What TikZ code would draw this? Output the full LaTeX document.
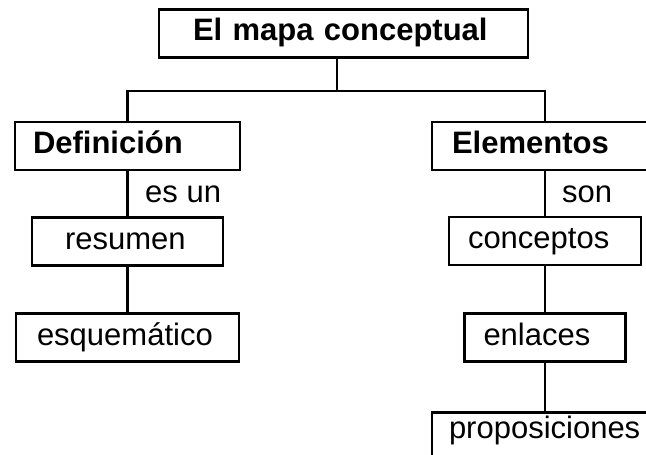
\documentclass[tikz,border=0pt]{standalone}
\usepackage{fontspec}
\setmainfont{Liberation Sans}
\begin{document}
\begin{tikzpicture}[x=1pt,y=-1pt,
    font=\fontsize{31}{36}\selectfont,
    concepto/.style={draw, line width=2.6pt, minimum height=48pt, inner ysep=0pt,
      text height=22pt, text depth=7pt, align=left},
    enlace/.style={anchor=base west, inner sep=0pt}]
  \path[use as bounding box] (0,0) rectangle (646,455);
  \clip (0,0) rectangle (646,455);
  \draw
    (343.5,33.5) node[concepto, text width=301pt, inner xsep=34pt, font=\fontsize{31}{36}\selectfont\bfseries] (mapa){El mapa conceptual}
    (127.5,146) node[concepto, text width=189pt, inner xsep=18pt, font=\fontsize{31}{36}\selectfont\bfseries] (def){Definición}
    (545,146) node[concepto, text width=186pt, inner xsep=20pt, font=\fontsize{31}{36}\selectfont\bfseries] (elem){Elementos}
    (127.5,241.5) node[concepto, text width=125pt, inner xsep=33pt] (res){resumen}
    (127.5,337.5) node[concepto, text width=181pt, inner xsep=21pt] (esq){esquemático}
    (545,241) node[concepto, text width=154pt, inner xsep=19pt] (conc){conceptos}
    (545,337.5) node[concepto, text width=123pt, inner xsep=19pt] (enl){enlaces}
    (545,411) node[concepto, anchor=north, text width=192pt, inner xsep=17pt,
      text height=26pt, text depth=24pt] (prop){proposiciones};
  \node[enlace] (esun) at (145,202) {es un};
  \node[enlace] (son) at (562,202) {son};
  \coordinate (fork) at (337,91);
  \begin{scope}[-, line width=2.2pt]
    \draw (fork |- mapa.south) to (fork);
    \draw (fork) -| (def);
    \draw (fork) -| (elem);
    \draw (def) to (res);
    \draw (res) to (esq);
    \draw (elem) to (conc);
    \draw (conc) to (enl);
    \draw (enl) to (prop);
  \end{scope}
\end{tikzpicture}
\end{document}
